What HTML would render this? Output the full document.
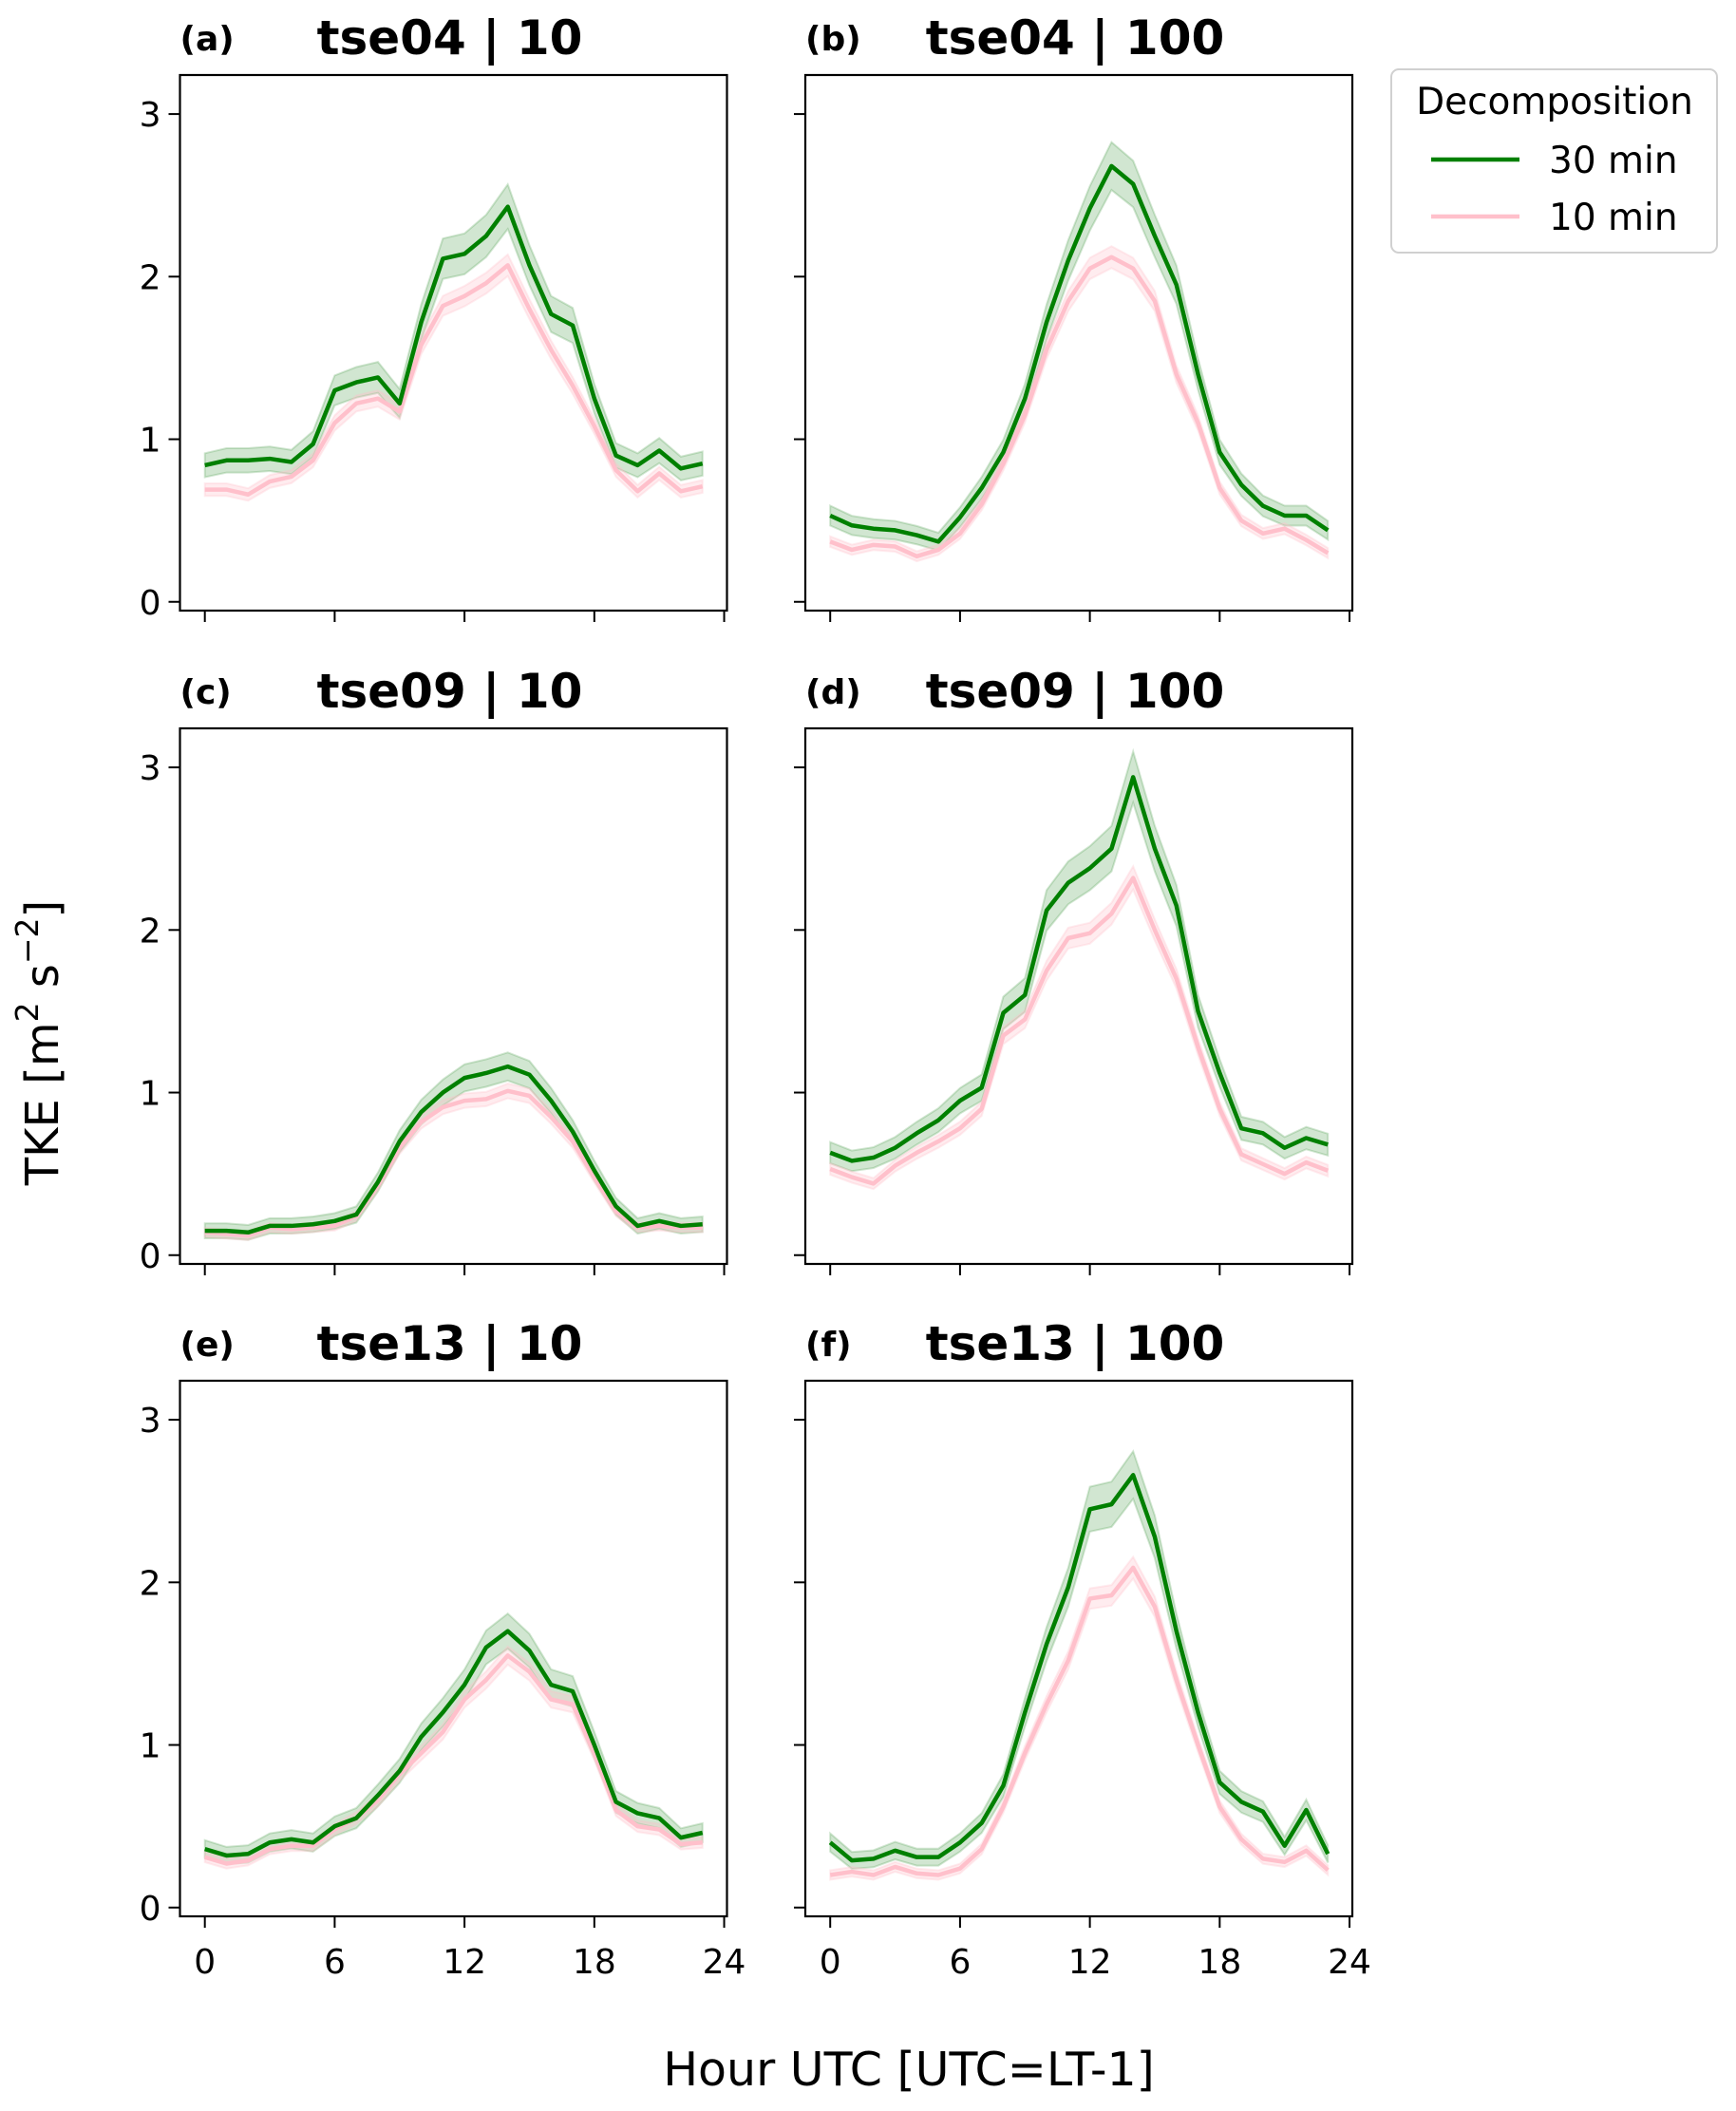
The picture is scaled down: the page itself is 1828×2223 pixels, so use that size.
<!DOCTYPE html>
<html><head><meta charset="utf-8">
<style>
html,body{margin:0;padding:0;background:#fff;}
svg text{font-family:"DejaVu Sans","Liberation Sans",sans-serif;}
</style></head>
<body>
<svg id="fig" width="1828" height="2218" viewBox="0 0 1828 2218" xmlns="http://www.w3.org/2000/svg">
<rect width="1828" height="2218" fill="#fff"/>
<text x="0" y="0" transform="translate(48,1098) rotate(-90)" font-size="48" text-anchor="middle" dominant-baseline="middle">TKE [m<tspan font-size="33" dy="-18">2</tspan><tspan dy="18"> s</tspan><tspan font-size="33" dy="-18">−2</tspan><tspan dy="18">]</tspan></text>
<text x="957" y="2196" font-size="49" text-anchor="middle">Hour UTC [UTC=LT-1]</text>
<g>
<rect x="1465" y="73" width="343" height="193" rx="8" fill="#fff" stroke="#d0d0d0" stroke-width="2"/>
<text x="1637" y="120" font-size="39" text-anchor="middle">Decomposition</text>
<line x1="1507" y1="168" x2="1600" y2="168" stroke="green" stroke-width="4.5"/>
<text x="1631" y="182" font-size="39">30 min</text>
<line x1="1507" y1="228" x2="1600" y2="228" stroke="pink" stroke-width="4.5"/>
<text x="1631" y="242" font-size="39">10 min</text>
</g>
</svg>
<script>
const hours = [0,1,2,3,4,5,6,7,8,9,10,11,12,13,14,15,16,17,18,19,20,21,22,23];
const panelLetters = ['(a)','(b)','(c)','(d)','(e)','(f)'];
const panelTitles = ['tse04 | 10','tse04 | 100','tse09 | 10','tse09 | 100','tse13 | 10','tse13 | 100'];
const xTicks = [0,6,12,18,24];
const yTicks = [0,1,2,3];
const green_a = [0.84,0.87,0.87,0.88,0.86,0.97,1.30,1.35,1.38,1.22,1.72,2.11,2.14,2.25,2.43,2.07,1.77,1.70,1.25,0.90,0.84,0.93,0.82,0.85];
const pink_a  = [0.69,0.69,0.66,0.74,0.77,0.87,1.10,1.22,1.25,1.17,1.58,1.82,1.88,1.96,2.07,1.80,1.55,1.33,1.08,0.81,0.68,0.79,0.68,0.71];
const green_b = [0.53,0.47,0.45,0.44,0.41,0.37,0.52,0.70,0.92,1.25,1.72,2.10,2.42,2.68,2.57,2.25,1.95,1.40,0.92,0.72,0.59,0.53,0.53,0.44];
const pink_b  = [0.37,0.32,0.35,0.34,0.28,0.32,0.42,0.60,0.85,1.15,1.55,1.85,2.05,2.12,2.05,1.85,1.40,1.10,0.70,0.50,0.42,0.45,0.38,0.30];
const green_c = [0.15,0.15,0.14,0.18,0.18,0.19,0.21,0.25,0.45,0.70,0.88,1.00,1.09,1.12,1.16,1.11,0.95,0.76,0.52,0.30,0.18,0.21,0.18,0.19];
const pink_c  = [0.14,0.13,0.12,0.17,0.16,0.17,0.18,0.24,0.43,0.66,0.82,0.91,0.95,0.96,1.01,0.98,0.85,0.70,0.48,0.27,0.17,0.18,0.17,0.17];
const green_d = [0.63,0.58,0.60,0.66,0.75,0.83,0.95,1.03,1.49,1.60,2.12,2.29,2.38,2.50,2.94,2.50,2.15,1.50,1.12,0.78,0.75,0.66,0.72,0.68];
const pink_d  = [0.53,0.48,0.44,0.55,0.63,0.70,0.78,0.90,1.35,1.45,1.75,1.95,1.98,2.10,2.32,2.00,1.70,1.28,0.90,0.62,0.56,0.50,0.57,0.52];
const green_e = [0.36,0.32,0.33,0.40,0.42,0.40,0.50,0.55,0.69,0.84,1.05,1.20,1.37,1.60,1.70,1.58,1.37,1.33,1.00,0.65,0.58,0.55,0.43,0.46];
const pink_e  = [0.31,0.27,0.29,0.36,0.38,0.38,0.48,0.55,0.66,0.82,0.95,1.08,1.28,1.40,1.55,1.45,1.28,1.25,0.95,0.60,0.50,0.48,0.39,0.40];
const green_f = [0.40,0.29,0.30,0.35,0.31,0.31,0.40,0.52,0.75,1.20,1.62,1.97,2.45,2.48,2.66,2.28,1.70,1.20,0.77,0.65,0.59,0.38,0.60,0.33];
const pink_f  = [0.20,0.22,0.20,0.25,0.21,0.20,0.24,0.36,0.62,0.95,1.25,1.52,1.90,1.92,2.09,1.85,1.40,1.00,0.62,0.42,0.30,0.28,0.35,0.23];
const greenSeries = [green_a,green_b,green_c,green_d,green_e,green_f];
const pinkSeries = [pink_a,pink_b,pink_c,pink_d,pink_e,pink_f];

const NS = 'http://www.w3.org/2000/svg';
const svg = document.getElementById('fig');
const colL = [189.5, 848], W = 576, rowT = [79, 767, 1454], H = 564;
const XMIN = -1.15, XMAX = 24.13, YMIN = -0.054, YMAX = 3.24;
function mk(tag, attrs, parent){const e=document.createElementNS(NS,tag);for(const k in attrs)e.setAttribute(k,attrs[k]);(parent||svg).appendChild(e);return e;}

for (let p = 0; p < 6; p++) {
  const c = p % 2, r = Math.floor(p / 2);
  const L = colL[c], T = rowT[r];
  const sx = v => L + (v - XMIN) / (XMAX - XMIN) * W;
  const sy = v => T + H - (v - YMIN) / (YMAX - YMIN) * H;
  const g = mk('g', {});
  
  
  const lt = mk('text', {x: L, y: T - 26, 'font-size': 36, 'font-weight': 'bold'}, g);
  
  
  lt.textContent = panelLetters[p];
  const tt = mk('text', {x: L + W / 2 - 4, y: T - 22, 'font-size': 50, 'font-weight': 'bold', 'text-anchor': 'middle'}, g);
  
  
  tt.textContent = panelTitles[p];
  const series = [[greenSeries[p], '#2e8b2e', 0.22, 0.04, 0.04], [pinkSeries[p], '#ffc0cb', 0.3, 0.025, 0.02]];
  series.forEach(([vals, bandCol, op, a0, a1], si) => {
    const spread = vals.map(v => a0 + a1 * v);
    let up = vals.map((v, i) => sx(hours[i]) + ',' + sy(v + spread[i])).join(' ');
    let dn = vals.map((v, i) => sx(hours[i]) + ',' + sy(v - spread[i])).reverse().join(' ');
    const band = mk('polygon', {points: up + ' ' + dn, fill: bandCol, 'fill-opacity': op, stroke: bandCol, 'stroke-opacity': op, 'stroke-width': 2}, g);
    
    
  });
  [[pinkSeries[p], 'pink', 'line-10min'], [greenSeries[p], 'green', 'line-30min']].forEach(([vals, col, nm]) => {
    const ln = mk('polyline', {points: vals.map((v, i) => sx(hours[i]) + ',' + sy(v)).join(' '), fill: 'none', stroke: col, 'stroke-width': 4.5, 'stroke-linejoin': 'round'}, g);
    
    
  });
  const fr = mk('rect', {x: L, y: T, width: W, height: H, fill: 'none', stroke: '#000', 'stroke-width': 2.2}, g);
  
  
  yTicks.forEach(v => {
    mk('line', {x1: L - 12, x2: L, y1: sy(v), y2: sy(v), stroke: '#000', 'stroke-width': 2}, g);
    if (c === 0) {
      const t = mk('text', {x: L - 20, y: sy(v) + 13, 'font-size': 36, 'text-anchor': 'end'}, g);
      
      
      t.textContent = v;
    }
  });
  xTicks.forEach(v => {
    mk('line', {x1: sx(v), x2: sx(v), y1: T + H, y2: T + H + 12, stroke: '#000', 'stroke-width': 2}, g);
    if (r === 2) {
      const t = mk('text', {x: sx(v), y: T + H + 60, 'font-size': 36, 'text-anchor': 'middle'}, g);
      
      
      t.textContent = v;
    }
  });
}
</script>
</body></html>
